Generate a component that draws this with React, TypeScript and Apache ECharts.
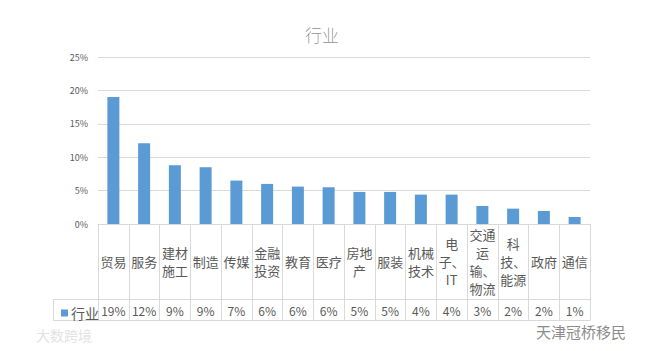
import React, { useEffect, useRef } from "react";
import * as echarts from "echarts";

const categories: string[] = [
  "贸易", "服务", "建材\n施工", "制造", "传媒", "金融\n投资", "教育", "医疗",
  "房地\n产", "服装", "机械\n技术", "电\n子、\nIT", "交通\n运\n输、\n物流", "科\n技、\n能源", "政府", "通信",
];
const seriesName = "行业";
const values: number[] = [19.0, 12.1, 8.8, 8.5, 6.5, 6.0, 5.6, 5.5, 4.8, 4.8, 4.4, 4.4, 2.7, 2.3, 1.95, 1.05];
const tableLabels: string[] = ["19%", "12%", "9%", "9%", "7%", "6%", "6%", "6%", "5%", "5%", "4%", "4%", "3%", "2%", "2%", "1%"];
const yTicks = { min: 0, max: 25, interval: 5 };

const FONT = "'Noto Sans CJK SC', 'Noto Sans', sans-serif";
const GRAY = "#595959";
const LINE = "#d9d9d9";
const BAR = "#5b9bd5";

export default function App() {
  const ref = useRef<HTMLDivElement>(null);
  useEffect(() => {
    if (!ref.current) return;
    const chart = echarts.init(ref.current, undefined, { renderer: "svg" });
    const L = 98, R = 590, TOP = 57, BASE = 224, ROW = 299, BOT = 320;
    chart.setOption({
      animation: false,
      backgroundColor: "#ffffff",
      textStyle: { fontFamily: FONT },
      title: {
        text: "行业",
        left: 300,
        top: 21,
        textStyle: { fontSize: 17, fontWeight: "lighter", color: GRAY, fontFamily: FONT },
      },
      legend: {
        data: [seriesName],
        left: 56,
        top: 301,
        icon: "rect",
        itemWidth: 7,
        itemHeight: 7,
        itemGap: 4,
        textStyle: { fontSize: 14, color: GRAY, fontFamily: FONT, padding: [0, 0, 0, -2] },
      },
      grid: [
        { left: L, right: 650 - R, top: TOP, bottom: 351 - BASE, containLabel: false },
        { left: L, right: 650 - R, top: BASE, bottom: 351 - BOT, containLabel: false },
      ],
      xAxis: [
        {
          type: "category",
          gridIndex: 0,
          data: categories,
          axisLine: { show: true, lineStyle: { color: LINE } },
          axisTick: { show: false },
          axisLabel: {
            interval: 0,
            margin: 37,
            verticalAlign: "middle",
            fontSize: 13,
            lineHeight: 18,
            color: GRAY,
            fontFamily: FONT,
          },
        },
        {
          type: "category",
          gridIndex: 1,
          data: categories,
          axisLine: { show: true, lineStyle: { color: LINE } },
          axisTick: { show: false },
          splitLine: { show: true, interval: 0, lineStyle: { color: LINE } },
          axisLabel: {
            interval: 0,
            inside: true,
            margin: 10,
            verticalAlign: "middle",
            fontSize: 12,
            color: GRAY,
            fontFamily: FONT,
            formatter: (_v: string, i: number) => tableLabels[i],
          },
        },
      ],
      yAxis: [
        {
          type: "value",
          gridIndex: 0,
          min: yTicks.min,
          max: yTicks.max,
          interval: yTicks.interval,
          axisLine: { show: false },
          axisTick: { show: false },
          splitLine: { lineStyle: { color: LINE } },
          axisLabel: { formatter: "{value}%", fontSize: 9, color: GRAY, margin: 10, fontFamily: FONT },
        },
        { type: "value", gridIndex: 1, show: false, min: 0, max: 1 },
      ],
      series: [
        {
          name: seriesName,
          type: "bar",
          xAxisIndex: 0,
          yAxisIndex: 0,
          data: values,
          barWidth: 12,
          itemStyle: { color: BAR },
        },
      ],
      graphic: [
        { type: "line", shape: { x1: 53, y1: ROW + 0.5, x2: R, y2: ROW + 0.5 }, style: { stroke: LINE, lineWidth: 1 }, silent: true },
        { type: "line", shape: { x1: 53, y1: BOT + 0.5, x2: L, y2: BOT + 0.5 }, style: { stroke: LINE, lineWidth: 1 }, silent: true },
        { type: "line", shape: { x1: 53.5, y1: ROW, x2: 53.5, y2: BOT }, style: { stroke: LINE, lineWidth: 1 }, silent: true },
        {
          type: "text",
          left: 536,
          top: 324,
          style: { text: "天津冠桥移民", fontSize: 15, fill: "#8c8c8c", fontFamily: FONT },
          silent: true,
        },
        {
          type: "text",
          left: 36,
          top: 328,
          style: { text: "大数跨境", fontSize: 14, fill: "#e3e3e3", fontFamily: FONT },
          silent: true,
        },
      ],
    });
    return () => chart.dispose();
  }, []);
  return (
    <div
      ref={ref}
      style={{ position: "absolute", left: 0, top: 0, width: 650, height: 351 }}
    />
  );
}
